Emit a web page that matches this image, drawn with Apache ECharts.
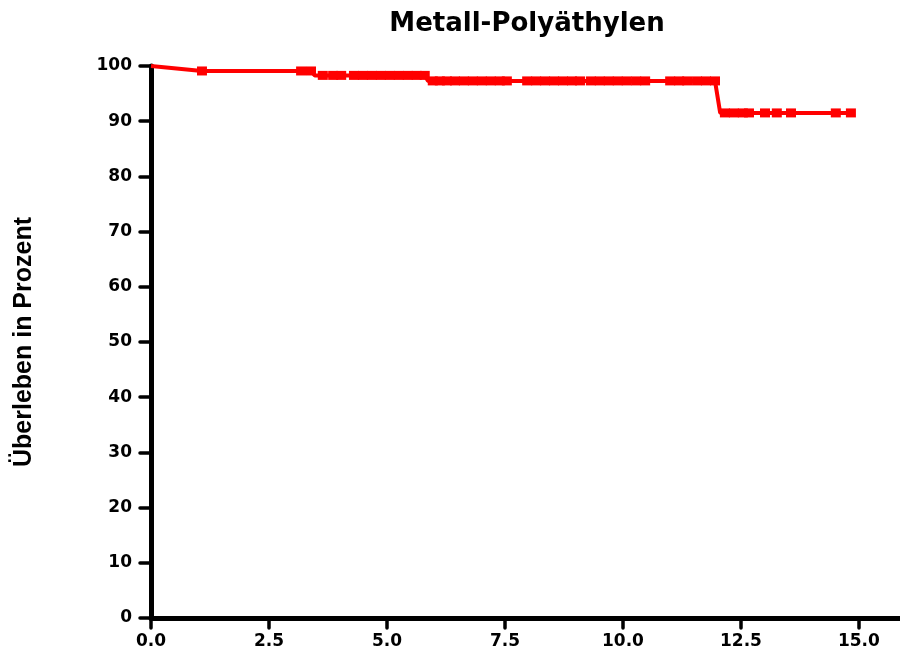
<!DOCTYPE html>
<html>
<head>
<meta charset="utf-8">
<script src="https://cdn.jsdelivr.net/npm/echarts@6/dist/echarts.min.js"></script>
<style>
  html, body { margin: 0; padding: 0; background: #ffffff; }
  #chart { width: 900px; height: 654px; }
</style>
</head>
<body>
<div id="chart"></div>
<script>
// Kaplan-Meier survival, metal-on-polyethylene implants (years vs. percent surviving)
const times = [
  0, 1.08, 3.18, 3.39, 3.47, 3.64, 3.86, 4.03, 4.30, 4.49, 4.68, 4.87, 5.06, 5.25, 5.44, 5.63, 5.80,
  5.87, 5.97, 6.12, 6.27, 6.44, 6.63, 6.82, 7.01, 7.20, 7.39, 7.54,
  7.97, 8.16, 8.35, 8.54, 8.73, 8.92, 9.09, 9.32, 9.51, 9.70, 9.89, 10.08, 10.28, 10.47,
  11.00, 11.19, 11.36, 11.57, 11.76, 11.95,
  12.06, 12.16, 12.35, 12.54, 12.67, 13.01, 13.26, 13.56, 14.51, 14.83
];
const survival = [
  100, 99.1, 99.1, 99.1, 98.3, 98.3, 98.3, 98.3, 98.3, 98.3, 98.3, 98.3, 98.3, 98.3, 98.3, 98.3, 98.3,
  97.3, 97.3, 97.3, 97.3, 97.3, 97.3, 97.3, 97.3, 97.3, 97.3, 97.3,
  97.3, 97.3, 97.3, 97.3, 97.3, 97.3, 97.3, 97.3, 97.3, 97.3, 97.3, 97.3, 97.3, 97.3,
  97.3, 97.3, 97.3, 97.3, 97.3, 97.3,
  91.5, 91.5, 91.5, 91.5, 91.5, 91.5, 91.5, 91.5, 91.5, 91.5
];
// 1 = censored observation (drawn with a square), 0 = plain curve vertex
const censored = [
  0, 1, 1, 1, 0, 1, 1, 1, 1, 1, 1, 1, 1, 1, 1, 1, 1,
  0, 1, 1, 1, 1, 1, 1, 1, 1, 1, 1,
  1, 1, 1, 1, 1, 1, 1, 1, 1, 1, 1, 1, 1, 1,
  1, 1, 1, 1, 1, 1,
  0, 1, 1, 1, 1, 1, 1, 1, 1, 1
];

const titleText = 'Metall-Polyäthylen';
const yAxisTitle = 'Überleben in Prozent';

const seriesData = times.map((t, i) => ({
  value: [t, survival[i]],
  symbol: censored[i] ? 'rect' : 'none'
}));

const labelFont = {
  color: '#000000',
  fontFamily: 'DejaVu Sans',
  fontWeight: 'bold',
  fontSize: 17
};

const chart = echarts.init(document.getElementById('chart'), null, { renderer: 'canvas' });
chart.setOption({
  animation: false,
  backgroundColor: '#ffffff',
  title: {
    text: titleText,
    left: 522,
    top: 6,
    textAlign: 'center',
    textStyle: {
      color: '#000000',
      fontFamily: 'DejaVu Sans',
      fontWeight: 'bold',
      fontSize: 26
    }
  },
  grid: { left: 151, right: 0, top: 66, bottom: 36 },
  xAxis: {
    type: 'value',
    min: 0,
    max: 15.87,
    interval: 2.5,
    splitLine: { show: false },
    axisLine: { lineStyle: { color: '#000000', width: 5, cap: 'round' } },
    axisTick: { inside: false, length: 10, lineStyle: { color: '#000000', width: 3.5, cap: 'round' } },
    axisLabel: Object.assign({
      margin: 15,
      showMaxLabel: false,
      formatter: v => v.toFixed(1)
    }, labelFont)
  },
  yAxis: {
    type: 'value',
    min: 0,
    max: 100,
    interval: 10,
    name: yAxisTitle,
    nameLocation: 'middle',
    nameRotate: 90,
    nameGap: 114,
    nameTextStyle: {
      color: '#000000',
      fontFamily: 'Liberation Sans',
      fontWeight: 'bold',
      fontSize: 25
    },
    splitLine: { show: false },
    axisLine: { lineStyle: { color: '#000000', width: 5, cap: 'round' } },
    axisTick: { inside: false, length: 11, lineStyle: { color: '#000000', width: 3.5, cap: 'round' } },
    axisLabel: Object.assign({ margin: 19 }, labelFont)
  },
  series: [{
    type: 'line',
    data: seriesData,
    symbolSize: [10, 9],
    showAllSymbol: true,
    color: '#ff0000',
    lineStyle: { color: '#ff0000', width: 4 },
    itemStyle: { color: '#ff0000' },
    z: 3
  }]
});
</script>
</body>
</html>
